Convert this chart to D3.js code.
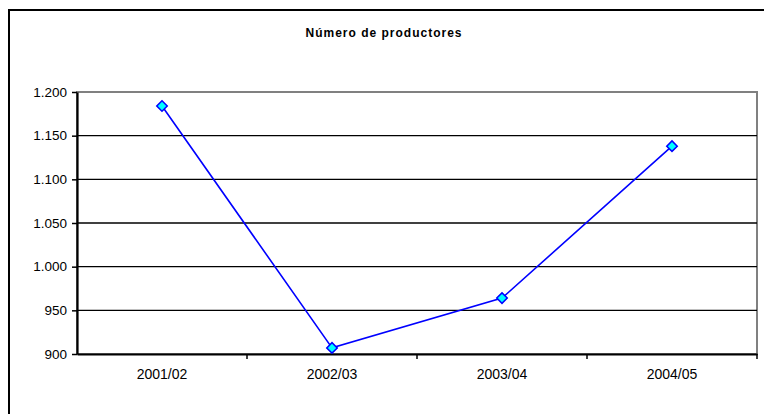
<!DOCTYPE html>
<html>
<head>
<meta charset="utf-8">
<script src="https://cdn.jsdelivr.net/npm/d3@7"></script>
<style>
  body { margin: 0; background: #fff; }
  text { font-family: "Liberation Sans", Arial, sans-serif; }
</style>
</head>
<body>
<div id="chart"></div>
<script>
var campanas = ['2001/02', '2002/03', '2003/04', '2004/05'];
var productores = [1184, 907, 964, 1138];
var yTicks = [900, 950, 1000, 1050, 1100, 1150, 1200];

var width = 764, height = 414;
var margin = {top: 92, right: 7, bottom: 60, left: 77};

var svg = d3.select('#chart').append('svg')
  .attr('width', width)
  .attr('height', height);

// chart frame, cut off at right/bottom like the source
svg.append('rect')
  .attr('x', 9).attr('y', 10)
  .attr('width', 800).attr('height', 500)
  .attr('fill', 'none')
  .attr('stroke', '#000')
  .attr('stroke-width', 2);

svg.append('text')
  .attr('x', 384).attr('y', 37)
  .attr('text-anchor', 'middle')
  .style('font-size', '12px')
  .style('font-weight', 'bold')
  .style('letter-spacing', '1px')
  .text('Número de productores');

var x = d3.scaleBand()
  .domain(campanas)
  .range([margin.left, width - margin.right]);

var y = d3.scaleLinear()
  .domain([900, 1200])
  .range([height - margin.bottom, margin.top]);

// plot area border (gray top/right)
svg.append('rect')
  .attr('x', margin.left).attr('y', margin.top)
  .attr('width', width - margin.right - margin.left)
  .attr('height', height - margin.bottom - margin.top)
  .attr('fill', 'none')
  .attr('stroke', '#808080')
  .attr('stroke-width', 2);

// gridlines
svg.append('g')
  .selectAll('line')
  .data(yTicks.slice(1, -1))
  .enter().append('line')
    .attr('x1', margin.left).attr('x2', width - margin.right)
    .attr('y1', d => y(d)).attr('y2', d => y(d))
    .attr('stroke', '#000')
    .attr('stroke-width', 1.3);

var fmt = d => d3.format(',')(d).replace(/,/g, '.');

var yAxis = svg.append('g')
  .attr('transform', 'translate(' + margin.left + ',0)')
  .call(d3.axisLeft(y).tickValues(yTicks).tickFormat(fmt).tickSize(5).tickPadding(5).tickSizeOuter(0));

var xAxis = svg.append('g')
  .attr('transform', 'translate(0,' + (height - margin.bottom) + ')')
  .call(d3.axisBottom(x).tickSize(0).tickPadding(15).tickSizeOuter(0));

// x ticks sit on the band boundaries
xAxis.selectAll('.bnd')
  .data(campanas.map(d => x(d) + x.bandwidth()))
  .enter().append('line')
    .attr('class', 'bnd')
    .attr('x1', d => d).attr('x2', d => d)
    .attr('y1', 0).attr('y2', 5)
    .attr('stroke', '#000')
    .attr('stroke-width', 1.5);

[yAxis, xAxis].forEach(a => {
  a.select('.domain').attr('stroke', '#000').attr('stroke-width', 2.2);
  a.selectAll('.tick line').attr('stroke', '#000').attr('stroke-width', 1.5);
  a.selectAll('text').attr('fill', '#000');
});
yAxis.selectAll('text').style('font-size', '13.5px');
xAxis.selectAll('text').style('font-size', '14px');

var cx = d => x(d) + x.bandwidth() / 2;

var line = d3.line()
  .x((d, i) => cx(campanas[i]))
  .y(d => y(d));

svg.append('path')
  .datum(productores)
  .attr('d', line)
  .attr('fill', 'none')
  .attr('stroke', '#0000ff')
  .attr('stroke-width', 1.6);

svg.append('g')
  .selectAll('path')
  .data(productores)
  .enter().append('path')
    .attr('d', d3.symbol().type(d3.symbolSquare).size(55))
    .attr('transform', (d, i) => 'translate(' + cx(campanas[i]) + ',' + y(d) + ') rotate(45)')
    .attr('fill', '#00ffff')
    .attr('stroke', '#0000ff')
    .attr('stroke-width', 1.5);
</script>
</body>
</html>
